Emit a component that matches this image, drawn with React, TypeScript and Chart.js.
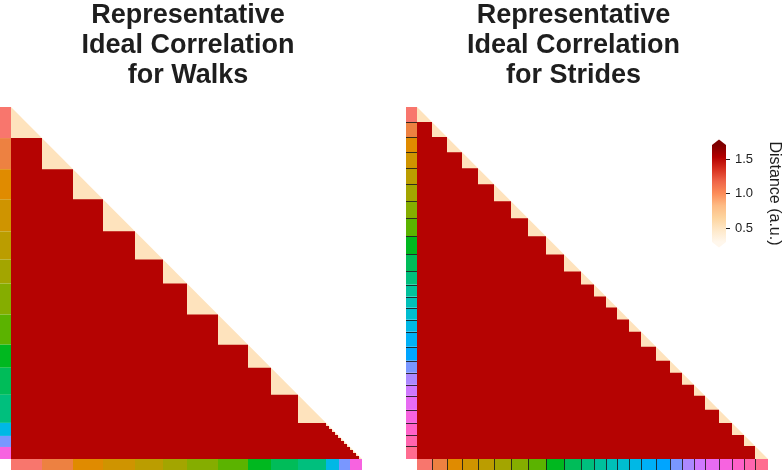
import React, { useEffect, useRef } from "react";
import { Chart, registerables } from "chart.js";
Chart.register(...registerables);

// ---------------- data ----------------
const walkTitle = ["Representative", "Ideal Correlation", "for Walks"];
const strideTitle = ["Representative", "Ideal Correlation", "for Strides"];

// left panel: lengths (samples) of the low-distance diagonal blocks
const walkBlockSizes = [31, 31, 30, 32, 28, 24, 31, 30, 23, 27, 28, 3, 3, 3, 3, 3, 3, 3, 3, 3, 3, 3, 3];
// left panel: lengths (samples) of the walk segments in the side strips
const walkSegmentSizes = [31, 31, 30, 32, 28, 24, 31, 30, 23, 27, 28, 13, 11, 12];
// palette index (of 25) of each walk segment
const walkSegmentPalette = [0, 1, 2, 3, 4, 5, 6, 7, 8, 9, 10, 14, 17, 21];

// right panel: lengths (samples) of each stride block
const strideBlockSizes = [15, 15, 15, 16, 16, 17, 17, 18, 18, 17, 13, 12, 11, 12, 12, 15, 14, 12, 12, 11, 14, 13, 12, 11, 13];
const strideSegmentPalette = strideBlockSizes.map((_, i) => i);

const withinDistance = 0.52;
const betweenDistance = 1.52;

const colorbarMin = 0.3;
const colorbarMax = 1.707;
const colorbarTicks = [0.5, 1.0, 1.5];
const colorbarLabel = "Distance (a.u.)";

// ---------------- styles ----------------
const FONT = '"Liberation Sans", Arial, Helvetica, sans-serif';
const TEXT = "#1e1e1e";
const STRIP = 11;
const ORRD = ["#fff7ec", "#fee8c8", "#fdd49e", "#fdbb84", "#fc8d59", "#ef6548", "#d7301f", "#b30000", "#7f0000"];

function hexToRgb(h: string) {
  const n = parseInt(h.slice(1), 16);
  return [(n >> 16) & 255, (n >> 8) & 255, n & 255];
}
function cmap(v: number) {
  let t = (v - colorbarMin) / (colorbarMax - colorbarMin);
  t = Math.max(0, Math.min(1, t));
  const p = t * (ORRD.length - 1);
  const i = Math.min(ORRD.length - 2, Math.floor(p));
  const f = p - i;
  const a = hexToRgb(ORRD[i]);
  const b = hexToRgb(ORRD[i + 1]);
  const c = a.map((x, k) => Math.round(x + (b[k] - x) * f));
  return `rgb(${c[0]},${c[1]},${c[2]})`;
}
function hueColor(idx: number, n = 25) {
  const h = 15 + (360 * idx) / n;
  const c = 100, l = 65;
  const hr = (h * Math.PI) / 180;
  const U = c * Math.cos(hr), V = c * Math.sin(hr);
  const Y = Math.pow((l + 16) / 116, 3);
  const un = 0.1978398, vn = 0.4683363;
  const up = U / (13 * l) + un, vp = V / (13 * l) + vn;
  const X = (9 * Y * up) / (4 * vp);
  const Z = (Y * (12 - 3 * up - 20 * vp)) / (4 * vp);
  const r = 3.2404542 * X - 1.5371385 * Y - 0.4985314 * Z;
  const g = -0.969266 * X + 1.8760108 * Y + 0.041556 * Z;
  const b = 0.0556434 * X - 0.2040259 * Y + 1.0572252 * Z;
  const gam = (v: number) => {
    const w = v <= 0.0031308 ? 12.92 * v : 1.055 * Math.pow(Math.max(v, 0), 1 / 2.4) - 0.055;
    return Math.round(Math.max(0, Math.min(1, w)) * 255);
  };
  return `rgb(${gam(r)},${gam(g)},${gam(b)})`;
}

function cumulative(a: number[]) {
  const out = [0];
  a.forEach((v) => out.push(out[out.length - 1] + v));
  return out;
}

function makePanel(
  canvas: HTMLCanvasElement,
  blocks: number[],
  segments: number[],
  palette: number[],
  title: string[],
  titleX: number,
  padding: any,
  separators: boolean
) {
  const edges = cumulative(blocks);
  const N = edges[edges.length - 1];
  const stairs = blocks.map((b, k) => ({ x: edges[k], y: edges[k] + b }));
  stairs.push({ x: N, y: N });
  const diag = [
    { x: 0, y: 0 },
    { x: N, y: N },
  ];
  const segEdges = cumulative(segments);

  const stripPlugin = {
    id: "strips",
    afterDatasetsDraw(chart: any) {
      const { ctx, chartArea, scales } = chart;
      ctx.save();
      segments.forEach((s, i) => {
        ctx.fillStyle = hueColor(palette[i]);
        const y0 = scales.y.getPixelForValue(segEdges[i]);
        const y1 = scales.y.getPixelForValue(segEdges[i + 1]);
        ctx.fillRect(chartArea.left - STRIP, y0, STRIP, y1 - y0);
        const x0 = scales.x.getPixelForValue(segEdges[i]);
        const x1 = scales.x.getPixelForValue(segEdges[i + 1]);
        ctx.fillRect(x0, chartArea.bottom, x1 - x0, STRIP);
      });
      if (separators) {
        ctx.strokeStyle = "rgba(25,25,25,0.85)";
        ctx.lineWidth = 1;
        ctx.beginPath();
        for (let i = 1; i < segEdges.length - 1; i++) {
          const y = Math.round(scales.y.getPixelForValue(segEdges[i])) + 0.5;
          ctx.moveTo(chartArea.left - STRIP, y);
          ctx.lineTo(chartArea.left, y);
          const x = Math.round(scales.x.getPixelForValue(segEdges[i])) + 0.5;
          ctx.moveTo(x, chartArea.bottom);
          ctx.lineTo(x, chartArea.bottom + STRIP);
        }
        ctx.stroke();
      }
      ctx.restore();
    },
    afterDraw(chart: any) {
      const { ctx } = chart;
      ctx.save();
      ctx.font = `bold 27px ${FONT}`;
      ctx.fillStyle = TEXT;
      ctx.textAlign = "center";
      ctx.textBaseline = "alphabetic";
      title.forEach((t, i) => ctx.fillText(t, titleX, 23 + i * 30));
      ctx.restore();
    },
  };

  return new Chart(canvas, {
    type: "scatter",
    data: {
      datasets: [
        {
          data: stairs,
          showLine: true,
          stepped: "before",
          fill: { value: N },
          backgroundColor: cmap(betweenDistance),
          borderColor: "rgba(0,0,0,0)",
          borderWidth: 0,
          pointRadius: 0,
          order: 0,
        },
        {
          data: diag,
          showLine: true,
          fill: { value: N },
          backgroundColor: cmap(withinDistance),
          borderColor: "rgba(0,0,0,0)",
          borderWidth: 0,
          pointRadius: 0,
          order: 1,
        },
      ],
    } as any,
    options: {
      animation: false,
      responsive: false,
      maintainAspectRatio: false,
      layout: { padding },
      events: [],
      scales: {
        x: { type: "linear", min: 0, max: N, display: false },
        y: { type: "linear", min: 0, max: N, reverse: true, display: false },
      },
      plugins: { legend: { display: false }, tooltip: { enabled: false } },
    } as any,
    plugins: [stripPlugin],
  });
}

function makeColorbar(canvas: HTMLCanvasElement) {
  const arrows = {
    id: "arrows",
    afterDatasetsDraw(chart: any) {
      const { ctx, chartArea: a } = chart;
      const cx = (a.left + a.right) / 2;
      ctx.save();
      ctx.fillStyle = ORRD[ORRD.length - 1];
      ctx.beginPath();
      ctx.moveTo(a.left, a.top);
      ctx.lineTo(a.right, a.top);
      ctx.lineTo(cx, a.top - 5.5);
      ctx.closePath();
      ctx.fill();
      ctx.fillStyle = ORRD[0];
      ctx.beginPath();
      ctx.moveTo(a.left, a.bottom);
      ctx.lineTo(a.right, a.bottom);
      ctx.lineTo(cx, a.bottom + 5.5);
      ctx.closePath();
      ctx.fill();
      ctx.restore();
    },
  };
  return new Chart(canvas, {
    type: "bar",
    data: {
      labels: [""],
      datasets: [
        {
          data: [[colorbarMin, colorbarMax]],
          barPercentage: 1,
          categoryPercentage: 1,
          borderWidth: 0,
          backgroundColor: (c: any) => {
            const area = c.chart.chartArea;
            if (!area) return ORRD[4];
            const g = c.chart.ctx.createLinearGradient(0, area.bottom, 0, area.top);
            ORRD.forEach((col, i) => g.addColorStop(i / (ORRD.length - 1), col));
            return g;
          },
        },
      ],
    } as any,
    options: {
      animation: false,
      responsive: false,
      maintainAspectRatio: false,
      events: [],
      layout: { padding: { left: 712, top: 145, right: 0, bottom: 228 } },
      scales: {
        x: { display: false },
        y: {
          position: "right",
          min: colorbarMin,
          max: colorbarMax,
          afterBuildTicks: (s: any) => {
            s.ticks = colorbarTicks.map((v) => ({ value: v }));
          },
          afterFit: (s: any) => {
            s.width = 56;
          },
          ticks: {
            callback: (v: any) => Number(v).toFixed(1),
            font: { family: FONT, size: 13 },
            color: TEXT,
            padding: 5,
          },
          grid: { display: true, drawOnChartArea: false, drawTicks: true, tickLength: 4, color: TEXT },
          border: { display: false },
          title: {
            display: true,
            text: colorbarLabel,
            font: { family: FONT, size: 16, lineHeight: 1 },
            color: TEXT,
            padding: 0,
          },
        },
      },
      plugins: { legend: { display: false }, tooltip: { enabled: false } },
    } as any,
    plugins: [arrows],
  });
}

export default function App() {
  const leftRef = useRef<HTMLCanvasElement>(null);
  const rightRef = useRef<HTMLCanvasElement>(null);
  const cbRef = useRef<HTMLCanvasElement>(null);

  useEffect(() => {
    const charts = [
      makePanel(
        leftRef.current!,
        walkBlockSizes,
        walkSegmentSizes,
        walkSegmentPalette,
        walkTitle,
        188,
        { left: 11, top: 107, right: 420, bottom: 11 },
        false
      ),
      makePanel(
        rightRef.current!,
        strideBlockSizes,
        strideBlockSizes,
        strideSegmentPalette,
        strideTitle,
        573.5,
        { left: 417, top: 107, right: 14, bottom: 11 },
        true
      ),
      makeColorbar(cbRef.current!),
    ];
    return () => charts.forEach((c) => c.destroy());
  }, []);

  const cs: React.CSSProperties = { position: "absolute", left: 0, top: 0, width: 782, height: 470 };
  return (
    <div style={{ position: "fixed", left: 0, top: 0, width: 782, height: 470, background: "#fff", overflow: "hidden" }}>
      <canvas ref={leftRef} width={782} height={470} style={cs} />
      <canvas ref={rightRef} width={782} height={470} style={cs} />
      <canvas ref={cbRef} width={782} height={470} style={cs} />
    </div>
  );
}
